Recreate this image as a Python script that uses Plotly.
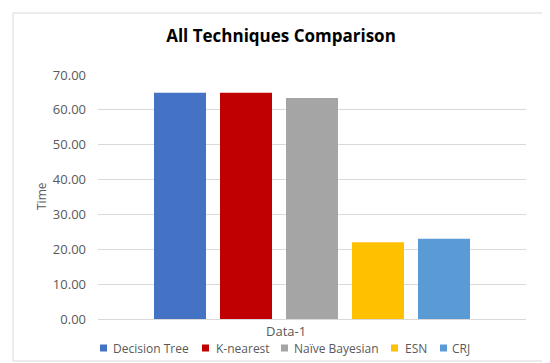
import plotly.graph_objects as go

categories = ["Data-1"]
series_names = ["Decision Tree", "K-nearest", "Naïve Bayesian", "ESN", "CRJ"]
series_values = [64.9, 64.9, 63.4, 22.0, 23.0]
series_colors = ["#4472C4", "#C00000", "#A5A5A5", "#FFC000", "#5B9BD5"]
title_text = "All Techniques Comparison"
y_title = "Time"

FONT = "Open Sans"
GREY = "#595959"

fig = go.Figure()
for name, val, col in zip(series_names, series_values, series_colors):
    fig.add_trace(go.Bar(x=categories, y=[val], name=name, showlegend=False,
                         marker=dict(color=col, line=dict(width=0))))

W, H = 550, 363
L, R, T, B = 90, 32, 67, 52
pw, ph = W - L - R, H - T - B

def px(x):
    return (x - L) / pw

def py(y):
    return (H - B - y) / ph

fig.update_layout(
    width=W, height=H,
    margin=dict(l=L, r=R, t=T, b=B, autoexpand=False),
    paper_bgcolor="white", plot_bgcolor="white",
    barmode="group", bargap=0.229, bargroupgap=0.212,
    title=dict(text="<b>" + title_text + "</b>", x=273 / W, xanchor="center",
               y=1 - 28 / H, yanchor="middle",
               font=dict(family=FONT, size=17, color="#000000")),
    font=dict(family=FONT, size=12, color=GREY),
    xaxis=dict(showticklabels=False, showgrid=False, showline=False, zeroline=False,
               ticks="", range=[-0.5, 0.5], automargin=False),
    yaxis=dict(range=[0, 70], dtick=10, tickformat=".2f", showgrid=True,
               gridcolor="#D9D9D9", gridwidth=1, zeroline=True, zerolinecolor="#D9D9D9",
               zerolinewidth=1, showline=False, ticks="", ticklabelstandoff=11,
               automargin=False,
               tickfont=dict(family=FONT, size=13, color=GREY)),
    showlegend=False,
)

# axis title and category label
fig.add_annotation(text=y_title, xref="paper", yref="paper", x=px(33), y=py(188),
                   textangle=-90, showarrow=False, xanchor="center", yanchor="middle",
                   font=dict(family=FONT, size=12, color=GREY))
fig.add_annotation(text=categories[0], xref="paper", yref="paper", x=px(278), y=py(323),
                   showarrow=False, xanchor="center", yanchor="middle",
                   font=dict(family=FONT, size=13, color=GREY))

# legend (drawn as swatches + labels)
legend_swatch_x = [92, 194, 273, 383, 432]
legend_text_x = [103, 206, 284, 395, 442]
legend_y = 340
for name, col, sx, tx in zip(series_names, series_colors, legend_swatch_x, legend_text_x):
    fig.add_shape(type="rect", xref="paper", yref="paper",
                  x0=px(sx), x1=px(sx + 7), y0=py(legend_y + 3.5), y1=py(legend_y - 3.5),
                  line=dict(width=0), fillcolor=col)
    fig.add_annotation(text=name, xref="paper", yref="paper", x=px(tx), y=py(legend_y),
                       showarrow=False, xanchor="left", yanchor="middle",
                       font=dict(family=FONT, size=12, color=GREY))

# chart border
fig.add_shape(type="rect", xref="paper", yref="paper",
              x0=px(5), x1=px(543), y0=py(353), y1=py(5),
              line=dict(color="#D9D9D9", width=1), fillcolor="rgba(0,0,0,0)", layer="below")

fig.write_html("out.html")
